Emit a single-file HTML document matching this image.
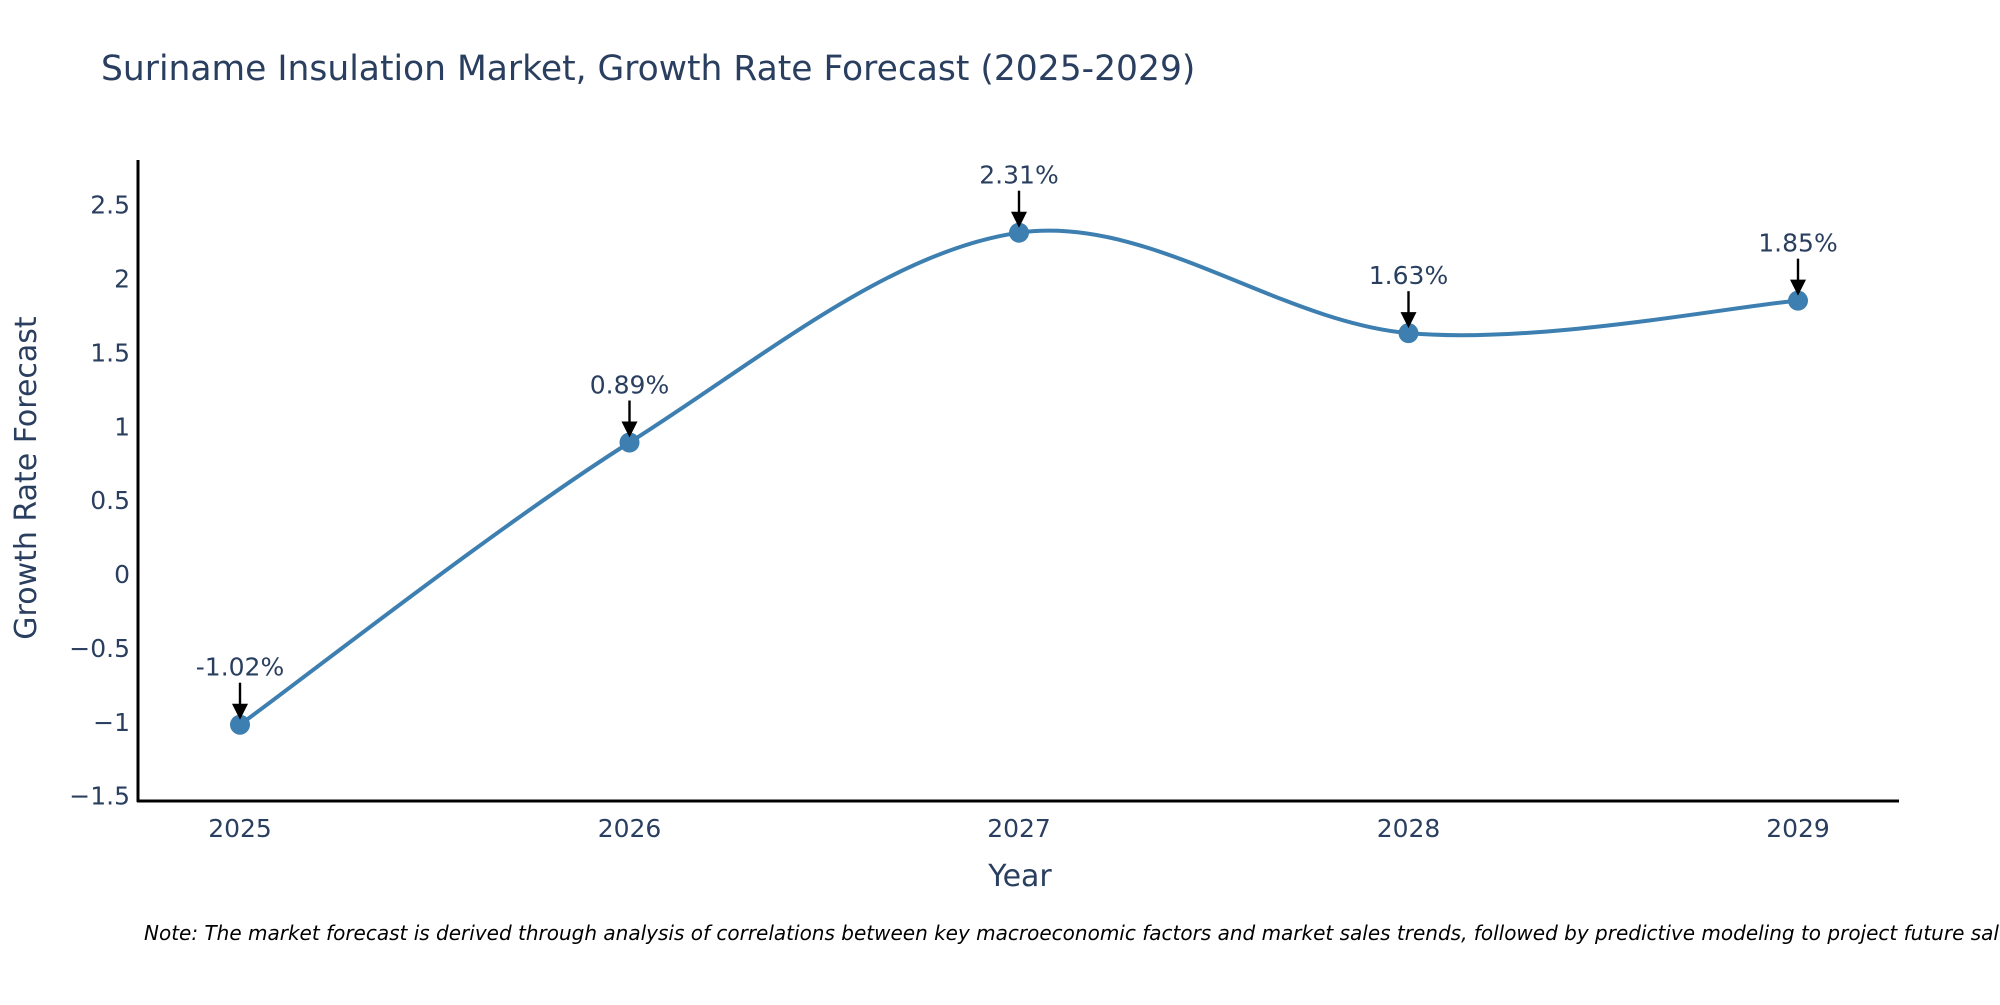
<!DOCTYPE html>
<html><head><meta charset="utf-8"><style>
body{margin:0;background:#fff;}
svg text{font-family:"DejaVu Sans","Liberation Sans",sans-serif;}
</style></head><body>
<svg width="2000" height="1000" xmlns="http://www.w3.org/2000/svg">
<text x="101" y="80" font-size="34.5" fill="#2a3f5f">Suriname Insulation Market, Growth Rate Forecast (2025-2029)</text>
<g id="yticks"></g>
<g id="xticks"></g>
<line x1="138" y1="160" x2="138" y2="802" stroke="#000" stroke-width="3"/>
<line x1="137" y1="801" x2="1899" y2="801" stroke="#000" stroke-width="3"/>
<text transform="translate(36,478) rotate(-90)" text-anchor="middle" font-size="30" fill="#2a3f5f">Growth Rate Forecast</text>
<text x="1020" y="886" text-anchor="middle" font-size="30" fill="#2a3f5f">Year</text>
<g id="series"></g>
<text x="144" y="940" font-size="20" font-style="italic" fill="#000">Note: The market forecast is derived through analysis of correlations between key macroeconomic factors and market sales trends, followed by predictive modeling to project future sales.</text>
</svg>
<script>
const years = [2025, 2026, 2027, 2028, 2029];
const values = [-1.02, 0.89, 2.31, 1.63, 1.85];
const labels = ["-1.02%", "0.89%", "2.31%", "1.63%", "1.85%"];
const yTicks = [-1.5, -1, -0.5, 0, 0.5, 1, 1.5, 2, 2.5];
const yTickLabels = ["\u22121.5", "\u22121", "\u22120.5", "0", "0.5", "1", "1.5", "2", "2.5"];

const NS = "http://www.w3.org/2000/svg";
function X(v){return 240 + (v-2025)*389.5;}
function Y(v){return 574 - v*147.75;}
function mk(tag, attrs, parent){const e=document.createElementNS(NS,tag);for(const k in attrs)e.setAttribute(k,attrs[k]);parent.appendChild(e);return e;}

const yt=document.getElementById('yticks');
yTicks.forEach((t,i)=>{
  const e=mk('text',{x:130,y:Y(t)+9,'text-anchor':'end','font-size':25,fill:'#2a3f5f'},yt);
  
  
  e.textContent=yTickLabels[i];
});
const xt=document.getElementById('xticks');
years.forEach(y=>{
  const e=mk('text',{x:X(y),y:837,'text-anchor':'middle','font-size':25,fill:'#2a3f5f'},xt);
  
  
  e.textContent=String(y);
});

const g=document.getElementById('series');
const pts=years.map((y,i)=>[X(y),Y(values[i])]);
let d=`M${pts[0][0]},${pts[0][1]}`;
const s=0.5;
for(let i=0;i<pts.length-1;i++){
  const p0=pts[Math.max(0,i-1)],p1=pts[i],p2=pts[i+1],p3=pts[Math.min(pts.length-1,i+2)];
  const c1=[p1[0]+(p2[0]-p0[0])*s/3,p1[1]+(p2[1]-p0[1])*s/3];
  const c2=[p2[0]-(p3[0]-p1[0])*s/3,p2[1]-(p3[1]-p1[1])*s/3];
  d+=` C${c1[0]},${c1[1]} ${c2[0]},${c2[1]} ${p2[0]},${p2[1]}`;
}
const line=mk('path',{d:d,fill:'none',stroke:'#3d7fb0','stroke-width':4},g);


pts.forEach((p,i)=>{
  const c=mk('circle',{cx:p[0],cy:p[1],r:10,fill:'#3d7fb0'},g);
  
  
  const a=mk('line',{x1:p[0],y1:p[1]-42,x2:p[0],y2:p[1]-18,stroke:'#000','stroke-width':2.4},g);
  
  
  const h=mk('polygon',{points:`${p[0]-8},${p[1]-21} ${p[0]+8},${p[1]-21} ${p[0]},${p[1]-5}`,fill:'#000'},g);
  
  
  const t=mk('text',{x:p[0],y:p[1]-49,'text-anchor':'middle','font-size':25,fill:'#2a3f5f'},g);
  
  
  t.textContent=labels[i];
});
</script>
</body></html>
